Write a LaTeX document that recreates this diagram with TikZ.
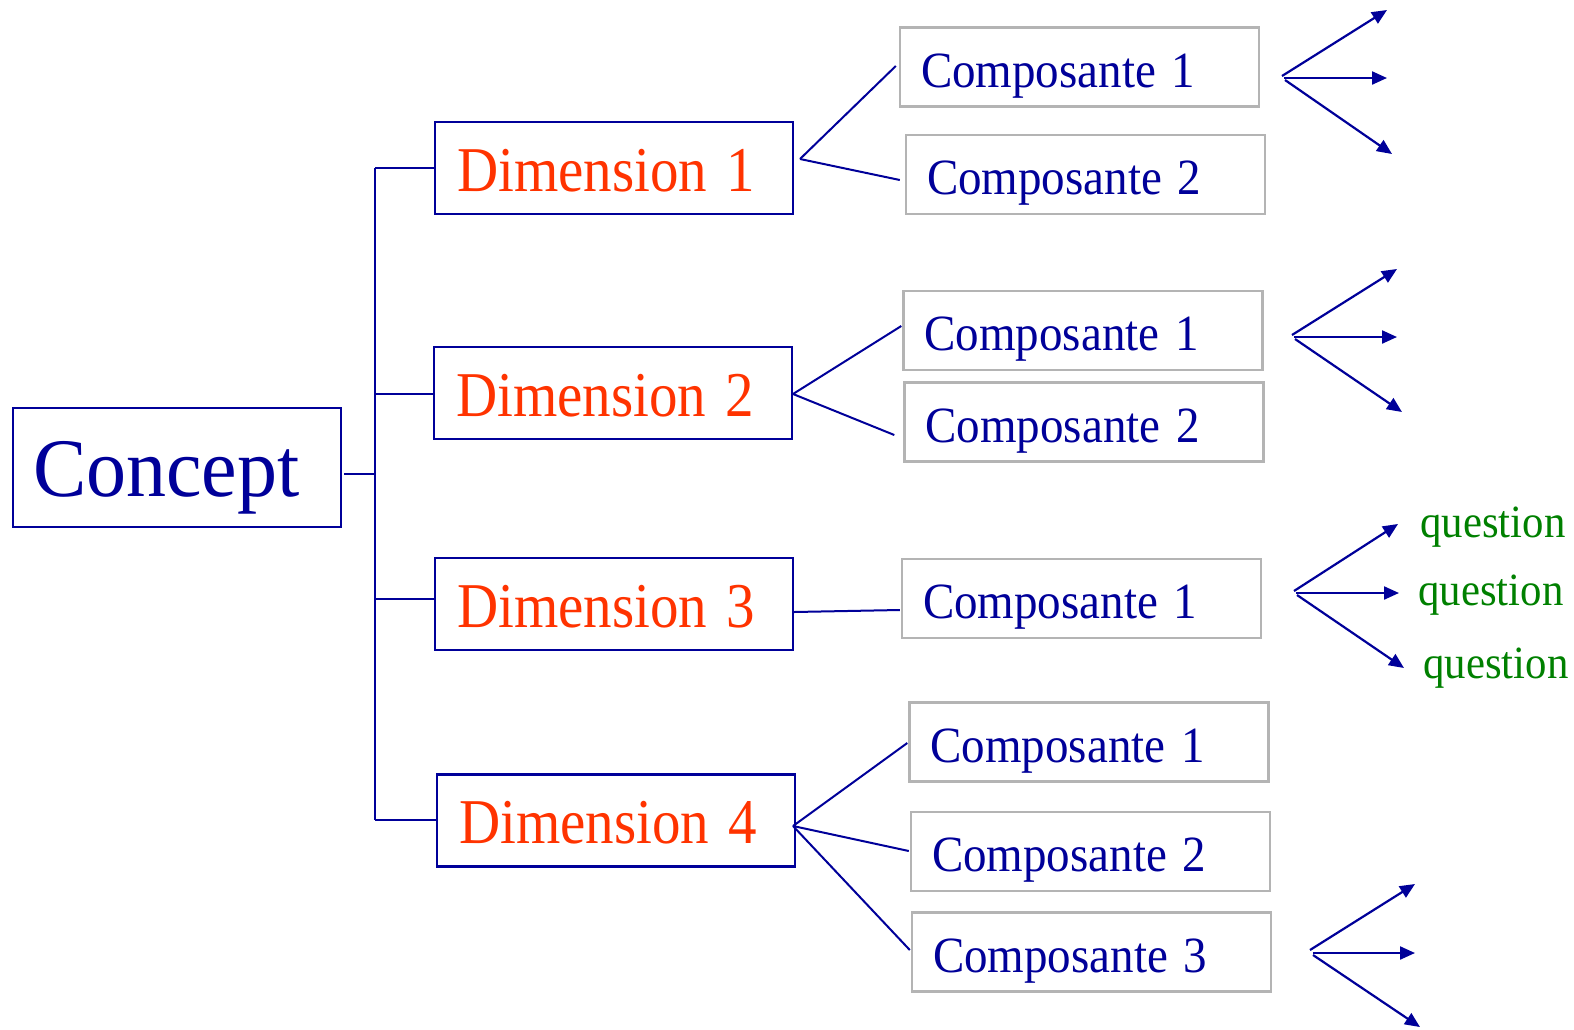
\documentclass[tikz,border=0pt]{standalone}
\usepackage{fontspec}
\setmainfont{Liberation Serif}
\usetikzlibrary{arrows.meta}
\definecolor{navy}{RGB}{0,0,153}
\definecolor{dimred}{RGB}{255,51,0}
\definecolor{qgreen}{RGB}{0,128,0}
\definecolor{boxgray}{RGB}{180,180,180}
% slightly taller lettering
\newcommand{\tall}[2]{\scalebox{1}[#1]{#2}}
\begin{document}
\begin{tikzpicture}[x=0.5pt,y=-0.5pt,
  conceptbox/.style={draw=navy, line width=1.3pt, text=navy,
    inner xsep=10pt, text width=144pt, align=left, minimum height=59.5pt,
    font=\fontsize{40}{40}\selectfont, text height=28.5pt, text depth=0pt},
  dimbox/.style={draw=navy, line width=1.2pt, text=dimred,
    inner xsep=11pt, text width=157pt, align=left, minimum height=46pt,
    font=\fontsize{28.5}{28.5}\selectfont, text height=23pt, text depth=0pt},
  compbox/.style={draw=boxgray, line width=1.2pt, text=navy,
    inner xsep=10.5pt, text width=158.5pt, align=left, minimum height=39.5pt,
    font=\fontsize{23.5}{23.5}\selectfont, text height=20pt, text depth=0pt},
  link/.style={draw=navy, line width=1pt},
  ray/.style={draw=navy, line width=1.1pt, -{Triangle[length=7.5pt,width=6.5pt]}},
  qtext/.style={text=qgreen, anchor=base west, inner sep=0pt,
    font=\fontsize{21.4}{21.4}\selectfont}
]
\useasboundingbox (0,0) rectangle (1574,1029);

% concept and its dimensions
\node[conceptbox] (concept) at (177,467.5) {\tall{1.04}{Concept}};
\node[dimbox] (d1) at (614,168) {\tall{1.12}{Dimension 1}};
\node[dimbox] (d2) at (613,393) {\tall{1.12}{Dimension 2}};
\node[dimbox] (d3) at (614,604) {\tall{1.12}{Dimension 3}};
\node[dimbox] (d4) at (616,820.5) {\tall{1.12}{Dimension 4}};

% components
\node[compbox] (c11) at (1079.5,67) {\tall{1.08}{Composante 1}};
\node[compbox] (c12) at (1085.5,174.5) {\tall{1.08}{Composante 2}};
\node[compbox] (c21) at (1083,330.5) {\tall{1.08}{Composante 1}};
\node[compbox] (c22) at (1084,422) {\tall{1.08}{Composante 2}};
\node[compbox] (c31) at (1081.5,598.5) {\tall{1.08}{Composante 1}};
\node[compbox] (c41) at (1089,742) {\tall{1.08}{Composante 1}};
\node[compbox] (c42) at (1090.5,851.5) {\tall{1.08}{Composante 2}};
\node[compbox] (c43) at (1091.5,952) {\tall{1.08}{Composante 3}};

% bracket joining the concept to its dimensions
\coordinate (cstub) at (344,474);
\coordinate (bar1) at (375,168);
\coordinate (bar2) at (375,394);
\coordinate (bar3) at (375,599);
\coordinate (bar4) at (375,820);
\draw[link] (cstub) -- (bar2 |- cstub);
\draw[link] (bar1) -- (bar4);
\draw[link] (bar1) -- (bar1 -| d1.west);
\draw[link] (bar2) -- (bar2 -| d2.west);
\draw[link] (bar3) -- (bar3 -| d3.west);
\draw[link] (bar4) -- (bar4 -| d4.west);

% dimensions to components
\coordinate (j1) at (800,159);
\coordinate (j2) at (793,394);
\coordinate (j3) at (794,612);
\coordinate (j4) at (793,826);
\draw[link] (j1) -- ([shift={(-3,-1)}]c11.west);
\draw[link] (j1) -- ([shift={(-5,5.5)}]c12.west);
\draw[link] (j2) -- ([shift={(-1,-4.5)}]c21.west);
\draw[link] (j2) -- ([shift={(-9,13)}]c22.west);
\draw[link] (j3) -- ([shift={(-1,11.5)}]c31.west);
\draw[link] (j4) -- ([shift={(-1,1)}]c41.west);
\draw[link] (j4) -- ([shift={(-1,-0.5)}]c42.west);
\draw[link] (j4) -- ([shift={(-1,-2)}]c43.west);

% component rays
\coordinate (r1) at (1282,76);
\draw[ray] (r1) -- (1387,10);
\draw[ray] ([shift={(2,2)}]r1) -- (1387,78);
\draw[ray] ([shift={(3,4)}]r1) -- (1392,154);

\coordinate (r2) at (1292,335);
\draw[ray] (r2) -- (1397,269);
\draw[ray] ([shift={(2,2)}]r2) -- (1397,337);
\draw[ray] ([shift={(3,4)}]r2) -- (1402,412);

\coordinate (r3) at (1294,591);
\node[qtext] (q1) at (1420,537) {\tall{1.08}{question}};
\node[qtext] (q2) at (1418,605) {\tall{1.08}{question}};
\node[qtext] (q3) at (1423,678) {\tall{1.08}{question}};
\draw[ray] (r3) -- ([shift={(-22,-13)}]q1.base west);
\draw[ray] ([shift={(2,2)}]r3) -- ([shift={(-19,-12)}]q2.base west);
\draw[ray] ([shift={(3,4)}]r3) -- ([shift={(-19,-10)}]q3.base west);

\coordinate (r4) at (1310,950);
\draw[ray] (r4) -- (1415,884);
\draw[ray] ([shift={(3,3)}]r4) -- (1415,953);
\draw[ray] ([shift={(3,5)}]r4) -- (1420,1027);
\end{tikzpicture}
\end{document}
